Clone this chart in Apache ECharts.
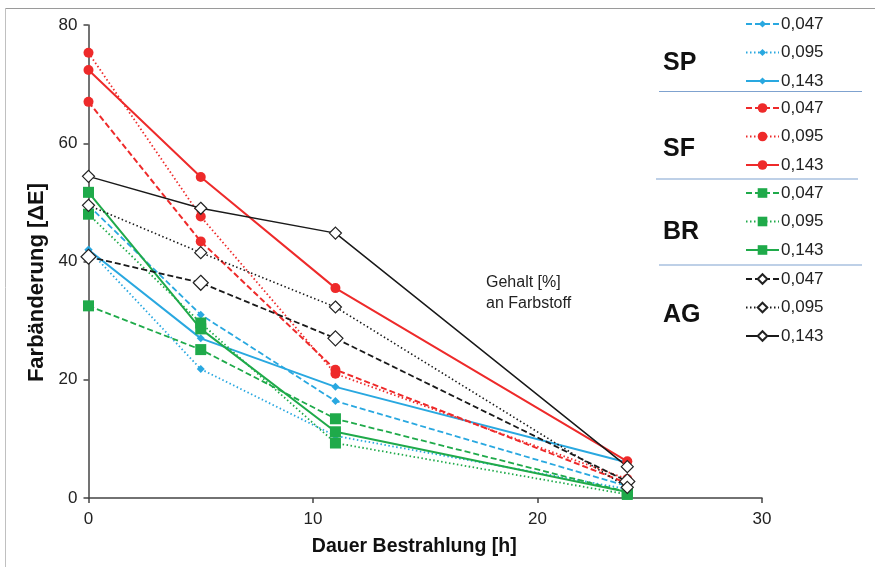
<!DOCTYPE html>
<html>
<head>
<meta charset="utf-8">
<script src="https://cdn.jsdelivr.net/npm/echarts@6/dist/echarts.min.js"></script>
<style>html,body{margin:0;padding:0;background:#fff;}#chart{width:875px;height:567px;}</style>
</head>
<body>
<div id="chart"></div>
<script>
// ---- data ----
const hours = [0, 5, 11, 24];
const concentrations = ['0,047', '0,095', '0,143'];
const groups = ['SP', 'SF', 'BR', 'AG'];
const SP_047 = [49.5, 31.0, 16.4, 2.0];
const SP_095 = [42.0, 21.8, 10.5, 1.5];
const SP_143 = [42.0, 27.0, 18.8, 6.0];
const SF_047 = [67.0, 43.4, 21.7, 2.5];
const SF_095 = [75.3, 47.6, 21.0, 3.2];
const SF_143 = [72.4, 54.3, 35.5, 6.2];
const BR_047 = [32.5, 25.1, 13.4, 1.0];
const BR_095 = [48.0, 29.6, 9.3, 0.6];
const BR_143 = [51.7, 28.6, 11.2, 1.0];
const AG_047 = [40.8, 36.4, 27.0, 2.8];
const AG_095 = [49.5, 41.5, 32.3, 1.8];
const AG_143 = [54.4, 49.0, 44.8, 5.3];
const xTicks = [0, 10, 20, 30];
const yTicks = [0, 20, 40, 60, 80];

const FONT = '"Liberation Sans", Arial, sans-serif';
const values = {
  SP: [SP_047, SP_095, SP_143],
  SF: [SF_047, SF_095, SF_143],
  BR: [BR_047, BR_095, BR_143],
  AG: [AG_047, AG_095, AG_143]
};
const colors = { SP: '#29a8e0', SF: '#ee2a2a', BR: '#1faa4a', AG: '#1a1a1a' };
const dashes = [[6, 3], [1.5, 2.5], 'solid'];
const widths = { SP: [1.8, 1.8, 2], SF: [2, 1.8, 2], BR: [1.8, 1.8, 2], AG: [1.8, 1.6, 1.5] };

const series = [];
groups.forEach(g => {
  concentrations.forEach((c, i) => {
    const s = {
      name: g + ' ' + c,
      type: 'line',
      data: hours.map((h, k) => [h, values[g][i][k]]),
      lineStyle: { color: colors[g], width: widths[g][i], type: dashes[i] },
      emphasis: { disabled: true },
      animation: false
    };
    if (g === 'SP') { s.symbol = 'diamond'; s.symbolSize = 8; s.itemStyle = { color: colors[g] }; }
    if (g === 'SF') { s.symbol = 'circle'; s.symbolSize = 10; s.itemStyle = { color: colors[g] }; }
    if (g === 'BR') { s.symbol = 'rect'; s.symbolSize = 11; s.itemStyle = { color: colors[g] }; }
    if (g === 'AG') {
      s.symbol = 'diamond'; s.symbolSize = [15, 12, 12][i];
      s.itemStyle = { color: '#fff', borderColor: '#222', borderWidth: 1.2 };
      s.z = 3;
    }
    series.push(s);
  });
});

const legendCenters = [24, 108, 193, 279];
const legendItemH = [9, 12, 12, 12];
const LH = 17;
const legends = groups.map((g, gi) => ({
  orient: 'vertical',
  left: 745,
  top: legendCenters[gi] - LH / 2,
  padding: 0,
  itemWidth: 33,
  itemHeight: legendItemH[gi],
  itemGap: 28.5 - LH,
  selectedMode: false,
  data: concentrations.map(c => g + ' ' + c),
  formatter: n => n.split(' ')[1],
  textStyle: { fontFamily: FONT, fontSize: 17, lineHeight: LH, color: '#222', padding: [0, 0, 0, -3] }
}));

const groupLabelY = [63, 149, 232, 315];
const sepLines = [[659, 91.5, 862], [656, 179, 858], [659, 265, 862]];
const graphics = [];
groups.forEach((g, gi) => {
  graphics.push({ type: 'text', x: 663, y: groupLabelY[gi],
    style: { text: g, font: 'bold 25px ' + FONT, fill: '#111', verticalAlign: 'middle' } });
});
sepLines.forEach(l => {
  graphics.push({ type: 'line', shape: { x1: l[0], y1: l[1], x2: l[2], y2: l[1] },
    style: { stroke: '#7fa2cf', lineWidth: 1.2 } });
});
graphics.push({ type: 'text', x: 486, y: 272,
  style: { text: 'Gehalt [%]\nan Farbstoff', font: '16px ' + FONT, fill: '#222', lineHeight: 21 } });
graphics.push({ type: 'line', shape: { x1: 5, y1: 8.5, x2: 875, y2: 8.5 }, style: { stroke: '#9a9a9a', lineWidth: 1.2 } });
graphics.push({ type: 'line', shape: { x1: 5.5, y1: 8, x2: 5.5, y2: 567 }, style: { stroke: '#c0c0c0', lineWidth: 1 } });

const chart = echarts.init(document.getElementById('chart'));
chart.setOption({
  backgroundColor: '#fff',
  animation: false,
  grid: { left: 88.5, right: 113, top: 25, bottom: 69 },
  legend: legends,
  graphic: graphics,
  xAxis: {
    type: 'value', min: xTicks[0], max: xTicks[xTicks.length - 1], interval: 10,
    name: 'Dauer Bestrahlung [h]', nameLocation: 'middle', nameGap: 39,
    nameTextStyle: { fontFamily: FONT, fontSize: 19.5, fontWeight: 'bold', color: '#111', padding: [0, 22, 0, 0] },
    axisLine: { lineStyle: { color: '#444', width: 1.5 } },
    axisTick: { show: true, length: 5, lineStyle: { color: '#444', width: 1.5 } },
    axisLabel: { fontFamily: FONT, fontSize: 17, color: '#222', margin: 13 },
    splitLine: { show: false }
  },
  yAxis: {
    type: 'value', min: yTicks[0], max: yTicks[yTicks.length - 1], interval: 20,
    name: 'Farbänderung [ΔE]', nameLocation: 'middle', nameGap: 41,
    nameTextStyle: { fontFamily: FONT, fontSize: 22, fontWeight: 'bold', color: '#111', padding: [0, 42, 0, 0] },
    axisLine: { show: true, lineStyle: { color: '#444', width: 1.5 } },
    axisTick: { show: true, length: 5, lineStyle: { color: '#444', width: 1.5 } },
    axisLabel: { fontFamily: FONT, fontSize: 17, color: '#222', margin: 11 },
    splitLine: { show: false }
  },
  series: series
});
</script>
</body>
</html>
